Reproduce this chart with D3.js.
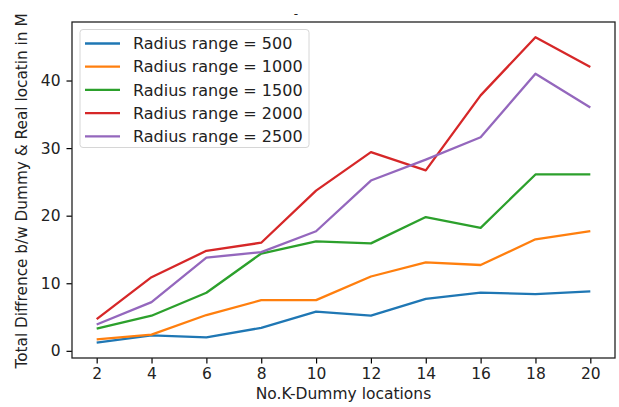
<!DOCTYPE html>
<html>
<head>
<meta charset="utf-8">
<script src="https://cdn.jsdelivr.net/npm/d3@7"></script>
<style>
  body { margin: 0; background: #fff; }
  svg { font-family: "DejaVu Sans", sans-serif; }
</style>
</head>
<body>
<svg id="plot" width="619" height="407"></svg>
<script>
// values
let kValues = [2, 4, 6, 8, 10, 12, 14, 16, 18, 20];
let seriesNames = ['Radius range = 500', 'Radius range = 1000', 'Radius range = 1500',
                   'Radius range = 2000', 'Radius range = 2500'];
let r500  = [1.2, 2.3, 2.0, 3.4, 5.8, 5.2, 7.7, 8.6, 8.4, 8.8];
let r1000 = [1.7, 2.4, 5.3, 7.5, 7.5, 11.0, 13.1, 12.7, 16.5, 17.7];
let r1500 = [3.3, 5.2, 8.6, 14.4, 16.2, 15.9, 19.8, 18.2, 26.1, 26.1];
let r2000 = [4.7, 10.9, 14.8, 16.0, 23.7, 29.4, 26.7, 37.8, 46.4, 42.0];
let r2500 = [3.9, 7.2, 13.8, 14.6, 17.7, 25.2, 28.3, 31.6, 41.0, 36.0];
let yTicks = [0, 10, 20, 30, 40];

let colors = ['#1f77b4', '#ff7f0e', '#2ca02c', '#d62728', '#9467bd'];
let series = [r500, r1000, r1500, r2000, r2500];

let svg = d3.select('#plot'),
    box = {left: 72, right: 615, top: 22, bottom: 358};

let allVals = series.flat(),
    yMin = d3.min(allVals), yMax = d3.max(allVals),
    yPad = (yMax - yMin) * 0.05,
    xPad = (kValues[kValues.length - 1] - kValues[0]) * 0.05;

let x = d3.scaleLinear()
    .domain([kValues[0] - xPad, kValues[kValues.length - 1] + xPad])
    .range([box.left, box.right]);
let y = d3.scaleLinear()
    .domain([yMin - yPad, yMax + yPad])
    .range([box.bottom, box.top]);

// axes
let xAxis = svg.append('g')
    .attr('transform', 'translate(0,' + box.bottom + ')')
    .call(d3.axisBottom(x).tickValues(kValues).tickSize(5.5).tickPadding(4));
let yAxis = svg.append('g')
    .attr('transform', 'translate(' + box.left + ',0)')
    .call(d3.axisLeft(y).tickValues(yTicks).tickSize(5.5).tickPadding(6));

[xAxis, yAxis].forEach(a => {
    a.select('.domain').remove();
    a.selectAll('.tick line').attr('stroke', '#000').attr('stroke-width', 1.2);
    a.selectAll('.tick text')
        .attr('font-size', 15.5)
        .attr('font-family', '"DejaVu Sans", sans-serif')
        .attr('fill', '#222');
});

// lines
let line = d3.line()
    .x((d, i) => x(kValues[i]))
    .y(d => y(d));

svg.selectAll('.series')
    .data(series)
    .enter()
    .append('path')
    .attr('class', 'series')
    .attr('fill', 'none')
    .attr('stroke', (d, i) => colors[i])
    .attr('stroke-width', 2.3)
    .attr('stroke-linejoin', 'round')
    .attr('d', line);

// frame
svg.append('rect')
    .attr('x', box.left).attr('y', box.top)
    .attr('width', box.right - box.left).attr('height', box.bottom - box.top)
    .attr('fill', 'none')
    .attr('stroke', '#222')
    .attr('stroke-width', 1.3);

// legend
let legend = svg.append('g');
legend.append('rect')
    .attr('x', 80).attr('y', 29.5)
    .attr('width', 229).attr('height', 118)
    .attr('rx', 3)
    .attr('fill', '#fff').attr('fill-opacity', 0.8)
    .attr('stroke', '#d6d6d6');

let rows = legend.selectAll('.row')
    .data(seriesNames)
    .enter()
    .append('g')
    .attr('transform', (d, i) => 'translate(0,' + (43.5 + i * 23.2) + ')');
rows.append('line')
    .attr('x1', 85).attr('x2', 120)
    .attr('stroke', (d, i) => colors[i])
    .attr('stroke-width', 2.3);
rows.append('text')
    .attr('x', 133)
    .attr('dy', '0.36em')
    .attr('font-size', 16)
    .attr('fill', '#222')
    .text(d => d);

// labels
svg.append('text')
    .attr('x', (box.left + box.right) / 2)
    .attr('y', 399)
    .attr('text-anchor', 'middle')
    .attr('font-size', 15.5)
    .attr('fill', '#222')
    .text('No.K-Dummy locations');

svg.append('text')
    .attr('transform', 'translate(27,' + ((box.top + box.bottom) / 2 + 1) + ') rotate(-90)')
    .attr('text-anchor', 'middle')
    .attr('font-size', 15.3)
    .attr('fill', '#222')
    .text('Total Diffrence b/w Dummy & Real locatin in M');

svg.append('text')
    .attr('x', 296)
    .attr('y', 18)
    .attr('text-anchor', 'middle')
    .attr('font-size', 12)
    .attr('fill', '#222')
    .text('-');
</script>
</body>
</html>
